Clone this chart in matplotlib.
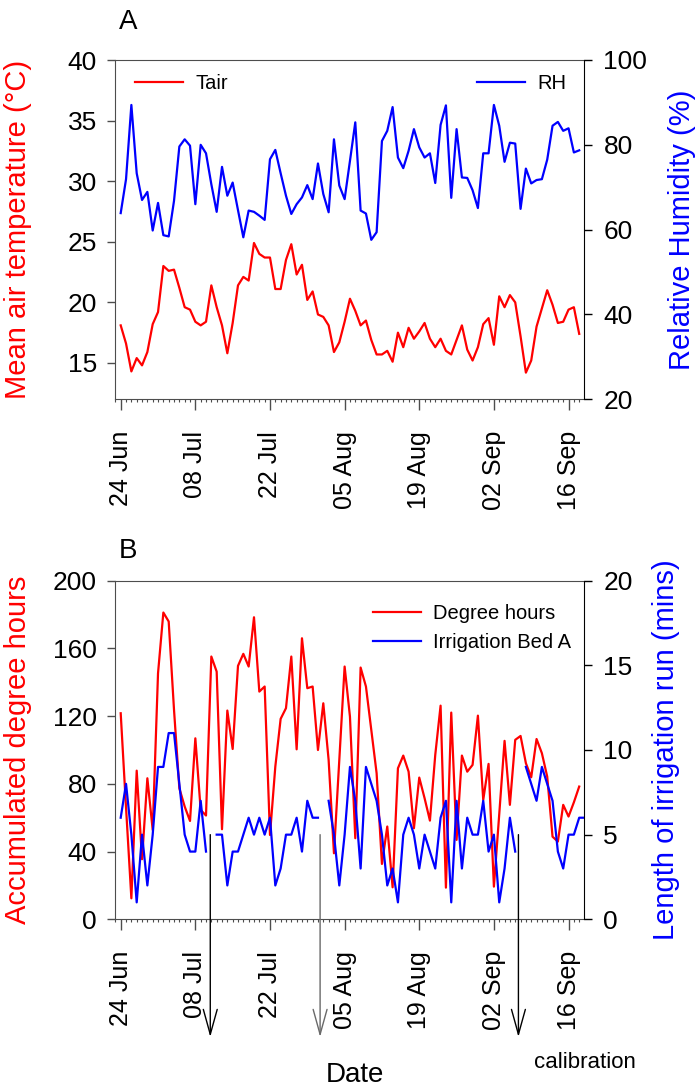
import numpy as np
import pandas as pd
import matplotlib
matplotlib.use('Agg')
import matplotlib.pyplot as plt
import matplotlib.dates as mdates

plt.rcParams['font.family'] = ['Liberation Sans', 'DejaVu Sans']

# Daily series from 24 Jun
inicio = pd.Timestamp('2019-06-24')

tair = [18.1, 16.6, 14.3, 15.4, 14.8, 15.9, 18.2, 19.2, 23.0, 22.6,
        22.7, 21.2, 19.6, 19.4, 18.4, 18.1, 18.4, 21.4, 19.6, 18.1,
        15.8, 18.3, 21.4, 22.1, 21.8, 24.9, 24.0, 23.7, 23.7, 21.1,
        21.1, 23.5, 24.8, 22.3, 23.1, 20.2, 20.9, 19.0, 18.8, 18.1,
        15.9, 16.7, 18.4, 20.3, 19.3, 18.1, 18.5, 16.9, 15.7, 15.7,
        16.0, 15.1, 17.5, 16.3, 17.9, 17.0, 17.6, 18.3, 17.0, 16.3,
        17.0, 16.0, 15.7, 16.9, 18.1, 16.1, 15.2, 16.3, 18.2, 18.7,
        16.5, 20.5, 19.6, 20.6, 20.0, 17.2, 14.2, 15.2, 18.0, 19.5,
        21.0, 19.8, 18.3, 18.4, 19.4, 19.6, 17.4]

rh = [63.9, 71.9, 89.4, 73.3, 67.0, 68.9, 59.8, 66.3, 58.7, 58.4,
      66.8, 79.6, 81.3, 79.8, 66.0, 80.0, 78.0, 70.7, 64.2, 74.8,
      68.0, 71.1, 64.6, 58.2, 64.5, 64.2, 63.3, 62.3, 76.6, 78.8,
      73.3, 68.0, 63.7, 66.0, 67.6, 70.5, 67.2, 75.6, 68.4, 64.1,
      81.3, 70.4, 67.2, 76.2, 85.3, 64.5, 63.8, 57.6, 59.4, 80.9,
      83.3, 88.9, 77.0, 74.5, 78.6, 83.7, 79.4, 77.0, 78.0, 71.0,
      84.7, 89.3, 67.5, 83.7, 72.3, 72.2, 69.3, 65.1, 78.0, 78.0,
      89.4, 84.5, 76.0, 80.5, 80.3, 64.9, 74.4, 70.9, 71.7, 71.9,
      76.5, 84.5, 85.4, 83.3, 83.9, 78.2, 78.7]

graus_hora = [121.7, 66.0, 12.4, 87.8, 35.5, 83.3, 52.8, 145.3, 181.2, 175.9,
              123.7, 77.4, 66.6, 58.1, 106.9, 64.6, 61.3, 155.2, 146.3, 53.2,
              123.3, 100.6, 149.7, 156.8, 149.3, 178.4, 134.5, 137.5, 49.8, 90.2,
              118.4, 124.7, 155.2, 100.4, 166.0, 136.5, 137.5, 100.0, 127.6, 94.1,
              39.0, 94.0, 149.3, 119.7, 47.9, 148.7, 137.5, 111.9, 86.3, 32.7,
              54.8, 18.9, 89.2, 96.7, 87.2, 53.8, 83.7, 71.5, 58.3, 97.1,
              126.2, 18.7, 122.1, 46.9, 96.7, 87.2, 91.2, 120.3, 70.5, 91.8,
              19.3, 62.0, 105.4, 67.6, 106.0, 108.3, 92.2, 83.9, 106.5, 98.1,
              84.3, 48.8, 45.9, 67.6, 60.7, 69.1, 78.4]

irrigacao = [6, 8, 5, 1, 5, 2, 5, 9, 9, 11,
             11, 8, 5, 4, 4, 7, 4, np.nan, 5, 5,
             2, 4, 4, 5, 6, 5, 6, 5, 6, 2,
             3, 5, 5, 6, 4, 7, 6, 6, np.nan, 7,
             5, 2, 5, 9, 7, 3, 9, 8, 7, 5,
             2, 3, 1, 5, 6, 5, 3, 5, 4, 3,
             6, 7, 1, 7, 3, 6, 5, 5, 7, 4,
             5, 1, 3, 6, 4, np.nan, 9, 8, 7, 9,
             8, 7, 4, 3, 5, 5, 6, 6]

# calibration days (offset in days from the first date) and arrow colours
calib_dias = [16.8, 37.4, 74.6]
calib_cores = ['black', 'dimgray', 'black']

datas = pd.date_range(inicio, periods=len(irrigacao), freq='D')
datas_clima = datas[:len(tair)]

fig = plt.figure(figsize=(6.95, 10.9), dpi=100)
W, H = 695, 1090
esq, dir_ = 115 / W, 584 / W
axA = fig.add_axes([esq, 1 - 399.3 / H, dir_ - esq, 339.3 / H])
axB = fig.add_axes([esq, 1 - 919.3 / H, dir_ - esq, 338.6 / H])
axA2 = axA.twinx()
axB2 = axB.twinx()

vermelho = '#ff0000'
azul = '#0000ff'

lA1, = axA.plot(datas_clima, tair, color=vermelho, lw=1.6, label='Tair')
lA2, = axA2.plot(datas_clima, rh, color=azul, lw=1.6, label='RH')
lB1, = axB.plot(datas_clima, graus_hora, color=vermelho, lw=1.6, label='Degree hours')
lB2, = axB2.plot(datas, irrigacao, color=azul, lw=1.6, label='Irrigation Bed A')

axA.set_ylim(12, 40)
axA.set_yticks([15, 20, 25, 30, 35, 40])
axA2.set_ylim(20, 100)
axA2.set_yticks([20, 40, 60, 80, 100])
axB.set_ylim(0, 200)
axB.set_yticks([0, 40, 80, 120, 160, 200])
axB2.set_ylim(0, 20)
axB2.set_yticks([0, 5, 10, 15, 20])

x0 = inicio - pd.Timedelta(days=1.07)
x1 = inicio + pd.Timedelta(days=86.9)
maiores = pd.date_range(inicio, periods=7, freq='14D')
menores = pd.date_range(inicio - pd.Timedelta(days=1), x1, freq='D')

for ax, ax2 in [(axA, axA2), (axB, axB2)]:
    ax.set_xlim(x0, x1)
    ax.set_xticks(maiores)
    ax.set_xticks(menores, minor=True)
    ax.xaxis.set_major_formatter(mdates.DateFormatter('%d %b'))
    ax.tick_params(axis='x', which='major', length=7.7, width=1, color='0.3',
                   labelsize=18, labelrotation=90, pad=15)
    ax.tick_params(axis='x', which='minor', length=2.4, width=0.8, color='0.3')
    ax.tick_params(axis='y', length=5.5, width=1, color='0.3', labelsize=19, pad=7.5)
    ax2.tick_params(axis='y', length=5.5, width=1, labelsize=19, pad=8.5)
    for s in ['left', 'bottom', 'top']:
        ax.spines[s].set_color('0.3')
        ax2.spines[s].set_visible(False)
    ax.spines['right'].set_visible(False)
    ax2.spines['right'].set_color('black')

axA.set_ylabel('Mean air temperature (°C)', color=vermelho, fontsize=21)
axA2.set_ylabel('Relative Humidity (%)', color=azul, fontsize=21)
axB.set_ylabel('Accumulated degree hours', color=vermelho, fontsize=21)
axB2.set_ylabel('Length of irrigation run (mins)', color=azul, fontsize=21)
axA.yaxis.set_label_coords(-0.177, 0.5)
axA2.yaxis.set_label_coords(1.179, 0.5)
axB.yaxis.set_label_coords(-0.177, 0.5)
axB2.yaxis.set_label_coords(1.145, 0.5)

# Legends
axA.legend(handles=[lA1], loc='center left', bbox_to_anchor=(0.0426, 0.932),
           frameon=False, fontsize=14.5, borderpad=0, borderaxespad=0,
           handlelength=2.4, handletextpad=0.6)
axA2.legend(handles=[lA2], loc='center left', bbox_to_anchor=(0.772, 0.932),
            frameon=False, fontsize=14.5, borderpad=0, borderaxespad=0,
            handlelength=2.4, handletextpad=0.6)
axB2.legend(handles=[lB1, lB2], loc='center left', bbox_to_anchor=(0.550, 0.859),
            frameon=False, fontsize=14.5, borderpad=0, borderaxespad=0,
            handlelength=2.4, handletextpad=0.6, labelspacing=0.5)

# Panel letters and shared x label
fig.text(119 / W, 1 - 29.3 / H, 'A', fontsize=20, va='baseline', ha='left')
fig.text(119 / W, 1 - 558 / H, 'B', fontsize=20, va='baseline', ha='left')
fig.text(355 / W, 1 - 1075 / H, 'Date', fontsize=20, ha='center', va='center')
fig.text(585 / W, 1 - 1063 / H, 'calibration', fontsize=16, ha='center', va='center')

# Calibration arrows
for d, cor in zip(calib_dias, calib_cores):
    xd = inicio + pd.Timedelta(days=d)
    axB.annotate('', xy=(xd, 1 - 1037 / H), xycoords=('data', 'figure fraction'),
                 xytext=(xd, 50), textcoords='data', annotation_clip=False,
                 arrowprops=dict(arrowstyle='->, head_length=1.8, head_width=0.5',
                                 color=cor, lw=1, shrinkA=0, shrinkB=0,
                                 mutation_scale=10))

plt.savefig('out.png', dpi=100)
